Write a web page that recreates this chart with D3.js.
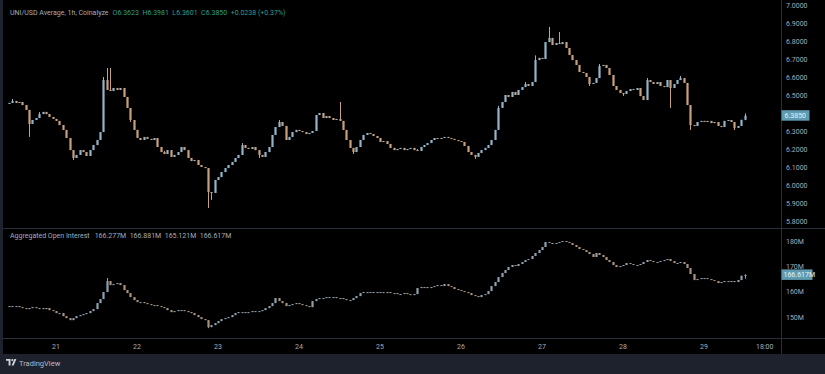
<!DOCTYPE html>
<html>
<head>
<meta charset="utf-8">
<script src="https://cdn.jsdelivr.net/npm/d3@7"></script>
<style>
  html, body { margin: 0; padding: 0; background: #1e222d; }
  svg { display: block; font-family: Roboto, "Liberation Sans", sans-serif; }
</style>
</head>
<body>
<svg id="chart" width="825" height="374"></svg>
<script>
// hourly candles, first one at 20th 10:00
const startHour = Date.UTC(2024, 0, 20, 10);

const priceCloses = [
  6.456, 6.467, 6.456, 6.461, 6.444, 6.417, 6.339, 6.361, 6.372, 6.394,
  6.406, 6.394, 6.378, 6.367, 6.356, 6.333, 6.306, 6.261, 6.194, 6.150,
  6.167, 6.194, 6.183, 6.161, 6.194, 6.222, 6.250, 6.294, 6.583, 6.528,
  6.522, 6.539, 6.528, 6.539, 6.489, 6.428, 6.361, 6.306, 6.261, 6.250,
  6.267, 6.256, 6.250, 6.261, 6.211, 6.183, 6.172, 6.194, 6.156, 6.167,
  6.183, 6.211, 6.194, 6.150, 6.133, 6.139, 6.111, 6.100, 6.094, 5.961,
  5.956, 6.028, 6.044, 6.072, 6.094, 6.111, 6.128, 6.150, 6.167, 6.222,
  6.206, 6.200, 6.211, 6.194, 6.167, 6.156, 6.183, 6.211, 6.278, 6.322,
  6.350, 6.328, 6.250, 6.267, 6.294, 6.306, 6.300, 6.294, 6.283, 6.289,
  6.300, 6.389, 6.400, 6.372, 6.383, 6.372, 6.361, 6.367, 6.356, 6.306,
  6.250, 6.206, 6.183, 6.211, 6.250, 6.278, 6.289, 6.283, 6.272, 6.261,
  6.239, 6.244, 6.228, 6.206, 6.194, 6.200, 6.206, 6.194, 6.200, 6.206,
  6.194, 6.189, 6.211, 6.222, 6.233, 6.250, 6.261, 6.256, 6.261, 6.267,
  6.261, 6.256, 6.250, 6.244, 6.239, 6.217, 6.183, 6.167, 6.156, 6.178,
  6.194, 6.206, 6.222, 6.250, 6.306, 6.428, 6.461, 6.500, 6.489, 6.517,
  6.500, 6.528, 6.544, 6.561, 6.550, 6.572, 6.694, 6.706, 6.700, 6.794,
  6.817, 6.778, 6.789, 6.783, 6.794, 6.761, 6.722, 6.694, 6.667, 6.628,
  6.622, 6.600, 6.561, 6.567, 6.594, 6.661, 6.667, 6.650, 6.611, 6.550,
  6.528, 6.511, 6.506, 6.522, 6.533, 6.528, 6.539, 6.494, 6.472, 6.583,
  6.572, 6.561, 6.572, 6.550, 6.544, 6.583, 6.539, 6.561, 6.583, 6.594,
  6.567, 6.444, 6.333, 6.328, 6.350, 6.356, 6.350, 6.356, 6.344, 6.350,
  6.328, 6.322, 6.356, 6.361, 6.350, 6.317, 6.328, 6.362, 6.385
];
const priceFirstOpen = 6.450;
// [candle index, price] for wicks that stick out of the body
const priceHighs = [[1, 6.478], [9, 6.405], [28, 6.600], [29, 6.650], [30, 6.650],
  [46, 6.189], [69, 6.233], [80, 6.361], [98, 6.461], [121, 6.200], [145, 6.440],
  [153, 6.572], [156, 6.720], [160, 6.878], [163, 6.850], [175, 6.672], [189, 6.594],
  [199, 6.606], [218, 6.398]];
const priceLows = [[6, 6.267], [19, 6.139], [36, 6.350], [59, 5.872], [60, 5.917],
  [74, 6.150], [102, 6.172], [138, 6.145], [172, 6.550], [182, 6.495], [196, 6.428],
  [202, 6.306], [215, 6.305], [218, 6.360]];

const oiCloses = [
  154.31, 154.31, 154.31, 153.91, 153.51, 153.12, 153.51, 153.91, 153.51, 153.51,
  153.12, 153.51, 152.72, 152.33, 151.54, 151.54, 150.35, 149.56, 148.77, 149.56,
  150.35, 150.75, 151.14, 151.54, 152.33, 153.12, 155.49, 157.07, 159.84, 164.19,
  162.61, 163.00, 163.40, 162.61, 160.63, 159.44, 157.86, 156.68, 155.89, 155.89,
  155.49, 155.10, 154.70, 154.70, 154.31, 153.91, 153.51, 152.72, 151.93, 152.33,
  152.72, 152.72, 152.33, 151.93, 151.54, 150.75, 149.96, 149.17, 148.77, 146.00,
  146.79, 147.58, 148.38, 149.17, 149.56, 149.96, 150.75, 151.54, 151.93, 151.93,
  151.93, 151.93, 152.33, 152.33, 152.33, 152.72, 153.51, 154.31, 155.49, 157.47,
  156.28, 155.49, 154.31, 154.70, 155.10, 155.49, 155.10, 154.70, 154.31, 153.91,
  156.28, 157.07, 157.47, 157.47, 157.86, 157.86, 157.86, 157.47, 157.47, 157.07,
  156.68, 156.68, 157.47, 158.26, 159.44, 159.84, 159.84, 159.84, 159.84, 159.84,
  159.84, 159.44, 159.84, 159.44, 159.44, 159.05, 159.05, 159.44, 159.05, 158.65,
  159.05, 161.42, 161.82, 161.82, 161.42, 161.82, 162.21, 162.61, 162.21, 163.00,
  162.21, 161.82, 161.03, 160.63, 160.24, 159.84, 159.44, 158.65, 158.26, 157.86,
  158.65, 159.05, 160.24, 162.21, 163.79, 165.77, 167.35, 168.54, 169.72, 170.51,
  170.12, 170.91, 171.70, 172.49, 172.88, 174.07, 175.26, 176.44, 177.63, 179.60,
  179.21, 179.21, 179.21, 179.60, 180.00, 179.60, 179.21, 178.42, 177.63, 176.84,
  176.44, 175.65, 174.86, 173.68, 175.26, 174.47, 173.68, 172.49, 171.70, 170.51,
  169.72, 170.12, 170.51, 171.30, 170.91, 170.51, 170.51, 170.91, 171.70, 172.49,
  172.09, 171.70, 171.70, 172.09, 172.49, 172.88, 172.09, 171.30, 171.30, 171.70,
  170.91, 169.33, 166.96, 164.58, 164.98, 165.37, 165.37, 164.98, 164.58, 164.19,
  163.40, 163.79, 164.19, 164.19, 164.19, 163.79, 164.58, 166.277, 166.617
];
const oiFirstOpen = 154.31;
const oiHighs = [[29, 165.40], [218, 166.881]];
const oiLows = [[59, 145.60], [218, 165.121]];

const priceTicks = [5.8, 5.9, 6.0, 6.1, 6.2, 6.3, 6.5, 6.6, 6.7, 6.8, 6.9, 7.0];
const oiTicks = [150, 160, 170, 180];
const dayTicks = [21, 22, 23, 24, 25, 26, 27, 28, 29];
const timeTickLabel = "18:00";

const priceTitle = "UNI/USD Average, 1h, Coinalyze";
const priceLegend = "O6.3623  H6.3981  L6.3601  C6.3850  +0.0238 (+0.37%)";
const oiTitle = "Aggregated Open Interest";
const oiLegend = "166.277M  166.881M  165.121M  166.617M";

const svg = d3.select("#chart");
const W = 825, H = 374;
const plotL = 3, axisX = 781.5, paneSep = 228.5, timeSep = 338.5, bottomY = 354;
const upColor = "#93b4c8", downColor = "#c9a07c", textColor = "#a9acb4";
const oiUp = "#8f9fae", oiDown = "#a8927e";

function buildCandles(closes, firstOpen, highs, lows) {
  const hi = new Map(highs), lo = new Map(lows);
  return closes.map((c, i) => {
    const o = i === 0 ? firstOpen : closes[i - 1];
    return {
      t: new Date(startHour + i * 3600e3),
      o, c,
      h: Math.max(o, c, hi.get(i) ?? -Infinity),
      l: Math.min(o, c, lo.get(i) ?? Infinity)
    };
  });
}
const priceData = buildCandles(priceCloses, priceFirstOpen, priceHighs, priceLows);
const oiData = buildCandles(oiCloses, oiFirstOpen, oiHighs, oiLows);

const x = d3.scaleUtc()
  .domain([new Date(Date.UTC(2024, 0, 21)), new Date(Date.UTC(2024, 0, 29))])
  .range([56, 704]);
const yPrice = d3.scaleLinear().domain([5.8, 6.9]).range([221, 23]);
const yOi = d3.scaleLinear().domain([150, 180]).range([317, 241]);

// backgrounds
svg.append("rect").attr("width", W).attr("height", H).attr("fill", "#1e222d");
svg.append("rect").attr("x", plotL).attr("width", W - plotL).attr("height", bottomY).attr("fill", "#000");

function drawCandles(g, data, y, up, down) {
  const bw = 2.2;
  const c = g.selectAll("g").data(data).join("g")
    .attr("fill", d => d.c >= d.o ? up : down)
    .attr("stroke", d => d.c >= d.o ? up : down);
  c.append("line")
    .attr("x1", d => Math.round(x(d.t)) + 0.5).attr("x2", d => Math.round(x(d.t)) + 0.5)
    .attr("y1", d => y(d.h)).attr("y2", d => y(d.l))
    .attr("stroke-width", 1);
  c.append("rect")
    .attr("stroke", "none")
    .attr("x", d => Math.round(x(d.t)) + 0.5 - bw / 2)
    .attr("width", bw)
    .attr("y", d => y(Math.max(d.o, d.c)))
    .attr("height", d => Math.max(1, Math.abs(y(d.o) - y(d.c))));
}

const mainG = svg.append("g");
drawCandles(mainG, priceData, yPrice, upColor, downColor);
const oiG = svg.append("g");
drawCandles(oiG, oiData, yOi, oiUp, oiDown);

// separators
svg.append("line").attr("x1", plotL).attr("x2", W).attr("y1", paneSep).attr("y2", paneSep)
  .attr("stroke", "#2a2e39");
svg.append("line").attr("x1", plotL).attr("x2", W).attr("y1", timeSep).attr("y2", timeSep)
  .attr("stroke", "#2a2e39");
svg.append("line").attr("x1", axisX).attr("x2", axisX).attr("y1", 0).attr("y2", bottomY)
  .attr("stroke", "#2a2e39");

// price axis
const priceAxis = svg.append("g").attr("font-size", 7).attr("fill", textColor);
priceAxis.selectAll("text").data(priceTicks).join("text")
  .attr("x", 786).attr("y", d => yPrice(d) + 2.5)
  .text(d => d3.format(".4f")(d));

const oiAxis = svg.append("g").attr("font-size", 7).attr("fill", textColor);
oiAxis.selectAll("text").data(oiTicks).join("text")
  .attr("x", 786).attr("y", d => yOi(d) + 2.5)
  .text(d => d + "M");

// last value tags
const lastP = priceData[priceData.length - 1].c;
svg.append("rect").attr("x", 781.5).attr("y", yPrice(lastP) - 5.5).attr("width", 28).attr("height", 10.5)
  .attr("fill", "#5f9bb0");
svg.append("text").attr("x", 784.5).attr("y", yPrice(lastP) + 2.5).attr("font-size", 7)
  .attr("fill", "#e6f2f6").text(d3.format(".4f")(lastP));
const lastOi = oiData[oiData.length - 1].c;
svg.append("rect").attr("x", 781.5).attr("y", yOi(lastOi) - 5.5).attr("width", 31).attr("height", 10.5)
  .attr("fill", "#5f9bb0");
svg.append("text").attr("x", 783.5).attr("y", yOi(lastOi) + 2.5).attr("font-size", 7)
  .attr("fill", "#e6f2f6").text(d3.format(".3f")(lastOi) + "M");

// time axis
const timeAxis = svg.append("g").attr("font-size", 7).attr("fill", textColor).attr("text-anchor", "middle");
timeAxis.selectAll("text.day").data(dayTicks).join("text").attr("class", "day")
  .attr("x", d => x(new Date(Date.UTC(2024, 0, d))))
  .attr("y", 349)
  .text(d => d);
timeAxis.append("text")
  .attr("x", x(new Date(Date.UTC(2024, 0, 29, 18))))
  .attr("y", 349)
  .text(timeTickLabel);

// legends
svg.append("text").attr("x", 10).attr("y", 15).attr("font-size", 7).attr("fill", textColor)
  .text(priceTitle)
  .append("tspan").attr("dx", 4).attr("fill", "#2f9e86").attr("xml:space", "preserve").text(priceLegend);
svg.append("text").attr("x", 10).attr("y", 238).attr("font-size", 7).attr("fill", textColor)
  .text(oiTitle)
  .append("tspan").attr("dx", 5).attr("xml:space", "preserve").text(oiLegend);

// TradingView mark
const logo = svg.append("g").attr("transform", "translate(6,359)").attr("fill", "#d1d4dc");
logo.append("path").attr("d", "M0,0H4.5V6.5H2.6V1.8H0Z");
logo.append("circle").attr("cx", 6.3).attr("cy", 1.1).attr("r", 1.1);
logo.append("path").attr("d", "M8.4,0H10.4L7.6,6.5H5.6Z");
svg.append("text").attr("x", 19).attr("y", 366).attr("font-size", 7.5).attr("fill", "#b8bbc3")
  .text("TradingView");
</script>
</body>
</html>
